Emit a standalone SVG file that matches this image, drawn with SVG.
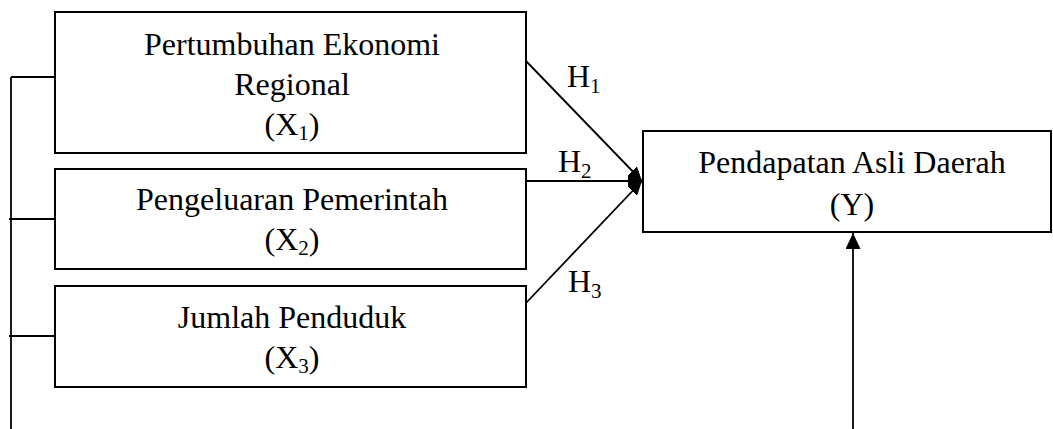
<svg xmlns="http://www.w3.org/2000/svg" width="1053" height="429" viewBox="0 0 1053 429">
  <style>
    .box { fill: #fff; stroke: #000; stroke-width: 2; }
    .line { fill: none; stroke: #000; stroke-width: 1.8; }
    text { font-family: "Liberation Serif", "Times New Roman", serif; font-size: 32px; fill: #000; }
    .c { text-anchor: middle; }
    .sub { font-size: 21px; }
  </style>
  <defs>
    <marker id="arr" markerUnits="userSpaceOnUse" markerWidth="16" markerHeight="15" refX="16" refY="7.5" orient="auto">
      <path d="M0,0 L16,7.5 L0,15 Z" fill="#000"/>
    </marker>
    <marker id="arrs" markerUnits="userSpaceOnUse" markerWidth="14" markerHeight="13" refX="14" refY="6.5" orient="auto">
      <path d="M0,0 L14,6.5 L0,13 Z" fill="#000"/>
    </marker>
  </defs>

  <g id="connectors">
    <path class="line" d="M11,77 V429"/>
    <path class="line" d="M11,77 H55"/>
    <path class="line" d="M9,219 H55"/>
    <path class="line" d="M9,336 H55"/>
    <path class="line" d="M526,61 L642,181" marker-end="url(#arrs)"/>
    <path class="line" d="M526,181 L642,181" marker-end="url(#arrs)"/>
    <path class="line" d="M526,303 L642,181" marker-end="url(#arrs)"/>
    <path class="line" d="M853,429 V233" marker-end="url(#arr)"/>
    <text x="567" y="87">H<tspan class="sub" dy="6">1</tspan></text>
    <text x="558" y="172">H<tspan class="sub" dy="6">2</tspan></text>
    <text x="568" y="292">H<tspan class="sub" dy="6">3</tspan></text>
  </g>

  <g id="x1">
    <rect class="box" x="55" y="12" width="471" height="141"/>
    <text class="c" x="292" y="55">Pertumbuhan Ekonomi</text>
    <text class="c" x="292" y="95">Regional</text>
    <text class="c" x="292" y="135">(X<tspan class="sub" dy="5">1</tspan><tspan dy="-5">)</tspan></text>
  </g>

  <g id="x2">
    <rect class="box" x="55" y="169" width="471" height="100"/>
    <text class="c" x="292" y="210">Pengeluaran Pemerintah</text>
    <text class="c" x="292" y="250">(X<tspan class="sub" dy="5">2</tspan><tspan dy="-5">)</tspan></text>
  </g>

  <g id="x3">
    <rect class="box" x="55" y="286" width="471" height="101"/>
    <text class="c" x="292" y="328">Jumlah Penduduk</text>
    <text class="c" x="292" y="368">(X<tspan class="sub" dy="5">3</tspan><tspan dy="-5">)</tspan></text>
  </g>

  <g id="y">
    <rect class="box" x="643" y="131" width="408" height="101"/>
    <text class="c" x="852" y="173">Pendapatan Asli Daerah</text>
    <text class="c" x="852" y="215">(Y)</text>
  </g>
</svg>
